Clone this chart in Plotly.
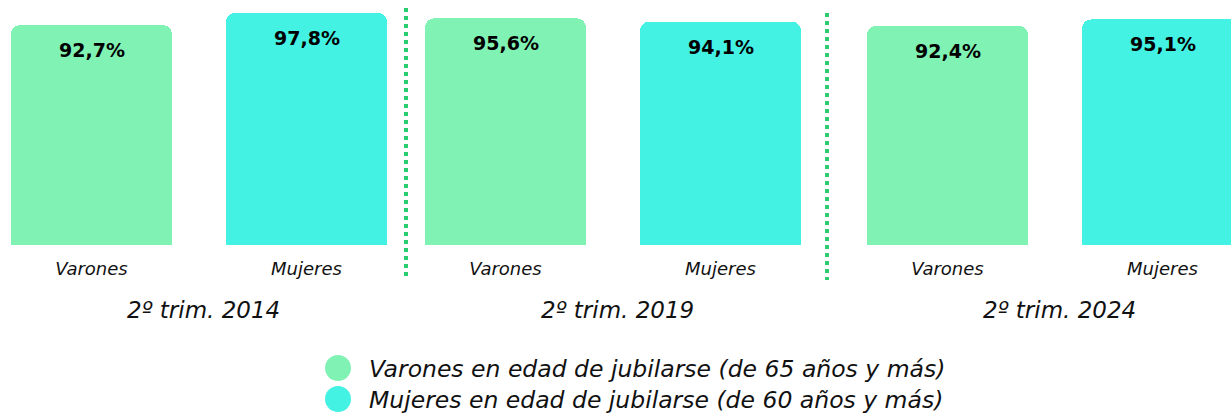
import plotly.graph_objects as go

# ---- data ----
periods = ["2º trim. 2014", "2º trim. 2019", "2º trim. 2024"]
categories = ["Varones", "Mujeres"]
varones = [92.7, 95.6, 92.4]
mujeres = [97.8, 94.1, 95.1]
legend_labels = [
    "Varones en edad de jubilarse (de 65 años y más)",
    "Mujeres en edad de jubilarse (de 60 años y más)",
]

# ---- style ----
W, H = 1231, 414
GREEN = "#80F2B4"
CYAN = "#44F2E4"
SEP = "#2ECC71"
FONT = "DejaVu Sans"
colors = [GREEN, CYAN]

# per-group x axis placement (pixels): domain start/end, centre of first bar
unit = 215.0          # pixels per category step
group_px = [(0, 410, 91.5), (410, 830, 505.5), (830, W, 947.5)]
y0_px = 245.0         # pixel row of value 0
px_per_val = 2.372

fig = go.Figure()

axis_names = ["x", "x2", "x3"]
for g, (period, v, m) in enumerate(zip(periods, varones, mujeres)):
    vals = [v, m]
    fig.add_trace(go.Bar(
        x=categories, y=vals,
        xaxis=axis_names[g], yaxis="y",
        marker=dict(color=colors, cornerradius=9, line=dict(width=0)),
        width=161 / unit,
        showlegend=False, hoverinfo="skip",
    ))
    for cat, val in zip(categories, vals):
        fig.add_annotation(
            x=cat, y=val, xref=axis_names[g], yref="y", yshift=-25,
            text=f"{val:.1f}%".replace(".", ","), showarrow=False,
            xanchor="center", yanchor="middle",
            font=dict(family=FONT, size=19, color="black", weight="bold"),
        )

layout_axes = {}
for g, (d0, d1, c0) in enumerate(group_px):
    r0 = (d0 - c0) / unit
    r1 = r0 + (d1 - d0) / unit
    key = "xaxis" if g == 0 else f"xaxis{g+1}"
    layout_axes[key] = dict(
        domain=[d0 / W, d1 / W], range=[r0, r1], anchor="y",
        type="category", showgrid=False, zeroline=False, showline=False,
        ticks="outside", ticklen=7, tickcolor="rgba(0,0,0,0)",
        tickfont=dict(family=FONT, size=18, color="#111", style="italic"),
        fixedrange=True,
    )
    fig.add_annotation(
        x=0.5, y=1 - 310 / H, xref=axis_names[g], yref="paper", xshift=4,
        text=periods[g], showarrow=False, xanchor="center", yanchor="middle",
        font=dict(family=FONT, size=23, color="#111", style="italic"),
    )

ytop = y0_px / px_per_val
fig.update_layout(
    **layout_axes,
    yaxis=dict(domain=[(H - y0_px) / H, 1], range=[0, ytop], visible=False,
               fixedrange=True),
    width=W, height=H,
    margin=dict(l=0, r=0, t=0, b=0),
    paper_bgcolor="white", plot_bgcolor="white",
    bargap=0,
)

# dotted separators
for xs, ya, yb in [(406, 8, 276), (827, 13, 280)]:
    fig.add_shape(type="line", xref="paper", yref="paper",
                  x0=xs / W, x1=xs / W, y0=1 - ya / H, y1=1 - yb / H,
                  line=dict(color=SEP, width=4, dash="4px,4px"))

# legend (circles + text)
for i, (lab, col) in enumerate(zip(legend_labels, colors)):
    cy = 368 + 31 * i
    r = 13
    fig.add_shape(type="circle", xref="paper", yref="paper",
                  x0=(338 - r) / W, x1=(338 + r) / W,
                  y0=1 - (cy + r) / H, y1=1 - (cy - r) / H,
                  fillcolor=col, line=dict(width=0))
    fig.add_annotation(x=367 / W, y=1 - (cy + 1) / H, xref="paper", yref="paper",
                       text=lab, showarrow=False, xanchor="left", yanchor="middle",
                       font=dict(family=FONT, size=23.5, color="#111", style="italic"))

fig.write_html(
    "out.html",
    config={"displayModeBar": False, "staticPlot": True},
    post_script="document.body.style.margin='0';document.body.style.overflow='hidden';",
)
